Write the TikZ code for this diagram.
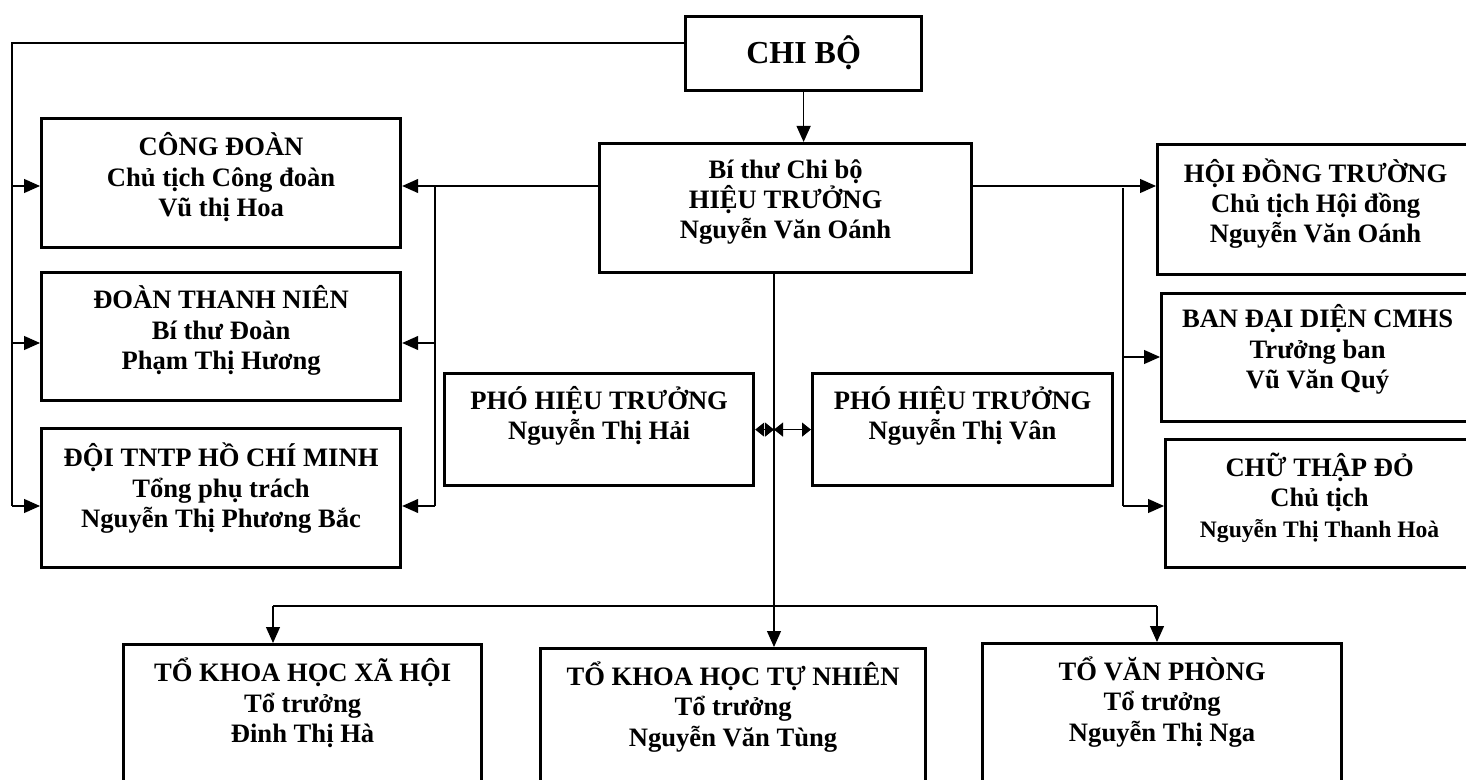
\documentclass[tikz,border=0pt]{standalone}
\usepackage{fontspec}
\setmainfont{Liberation Serif}
\usetikzlibrary{arrows.meta}
\tikzset{
  box/.style={draw,line width=1.6pt,anchor=north west,inner sep=0pt},
  txt/.style={align=center,inner sep=0pt,font=\bfseries\fontsize{13.3}{15.2}\selectfont},
  wire/.style={line width=0.6pt},
  arr/.style={wire,-{Triangle[length=8pt,width=7pt]}},
  darr/.style={wire,{Triangle[length=4.5pt,width=7pt]}-{Triangle[length=4.5pt,width=7pt]}}
}
\begin{document}
\begin{tikzpicture}[x=0.5pt,y=-0.5pt]
  \useasboundingbox (0,0) rectangle (1466,780);
  \node[box,minimum width=118pt,minimum height=37pt] (cb) at (684,15) {};
  \node[box,minimum width=186pt,minimum height=64.5pt] (ht) at (598,142) {};
  \node[box,minimum width=179.5pt,minimum height=64.5pt] (cd) at (40,117) {};
  \node[box,minimum width=179.5pt,minimum height=64pt] (dtn) at (40,271) {};
  \node[box,minimum width=179.5pt,minimum height=69.5pt] (doi) at (40,427) {};
  \node[box,minimum width=154.5pt,minimum height=56pt] (phl) at (443,372) {};
  \node[box,minimum width=150pt,minimum height=56pt] (phr) at (811,372) {};
  \node[box,minimum width=158pt,minimum height=65pt] (hd) at (1156,143) {};
  \node[box,minimum width=156pt,minimum height=64pt] (ban) at (1160,292) {};
  \node[box,minimum width=154pt,minimum height=64pt] (ctd) at (1164,438) {};
  \node[box,minimum width=179pt,minimum height=100pt] (khxh) at (122,643) {};
  \node[box,minimum width=192.5pt,minimum height=100pt] (khtn) at (539,647) {};
  \node[box,minimum width=179.5pt,minimum height=100pt] (vp) at (981,642) {};

  \node[txt,font=\bfseries\fontsize{16}{19}\selectfont,yshift=0.5pt] (cb-t) at (cb) {CHI BỘ};
  \node[txt,yshift=3pt] (ht-t) at (ht) {Bí thư Chi bộ\\HIỆU TRƯỞNG\\Nguyễn Văn Oánh};
  \node[txt,yshift=3pt] (cd-t) at (cd) {CÔNG ĐOÀN\\Chủ tịch Công đoàn\\Vũ thị Hoa};
  \node[txt,yshift=3pt] (dtn-t) at (dtn) {ĐOÀN THANH NIÊN\\Bí thư Đoàn\\Phạm Thị Hương};
  \node[txt,yshift=5pt] (doi-t) at (doi) {ĐỘI TNTP HỒ CHÍ MINH\\Tổng phụ trách\\Nguyễn Thị Phương Bắc};
  \node[txt,yshift=7pt] (phl-t) at (phl) {PHÓ HIỆU TRƯỞNG\\Nguyễn Thị Hải};
  \node[txt,yshift=7pt] (phr-t) at (phr) {PHÓ HIỆU TRƯỞNG\\Nguyễn Thị Vân};
  \node[txt,yshift=3pt] (hd-t) at (hd) {HỘI ĐỒNG TRƯỜNG\\Chủ tịch Hội đồng\\Nguyễn Văn Oánh};
  \node[txt,yshift=4pt] (ban-t) at (ban) {BAN ĐẠI DIỆN CMHS\\Trưởng ban\\Vũ Văn Quý};
  \node[txt,yshift=3pt] (ctd-t) at (ctd) {CHỮ THẬP ĐỎ\\Chủ tịch\\{\fontsize{11.8}{14}\selectfont Nguyễn Thị Thanh Hoà}};
  \node[txt] (khxh-t) at ([yshift=-30pt]khxh.north) {TỔ KHOA HỌC XÃ HỘI\\Tổ trưởng\\Đinh Thị Hà};
  \node[txt] (khtn-t) at ([yshift=-30pt]khtn.north) {TỔ KHOA HỌC TỰ NHIÊN\\Tổ trưởng\\Nguyễn Văn Tùng};
  \node[txt] (vp-t) at ([yshift=-30pt]vp.north) {TỔ VĂN PHÒNG\\Tổ trưởng\\Nguyễn Thị Nga};

  \coordinate (lt) at (12,43);
  \coordinate (lb) at (12,506);
  \coordinate (mt) at (435,186);
  \coordinate (mb) at (435,506);
  \coordinate (rt) at (1123,188);
  \coordinate (rb) at (1123,506);
  \coordinate (bl) at (273,606);
  \coordinate (bm) at (774,606);
  \coordinate (br) at (1157,606);

  \draw[arr] (cb.south) -- (cb.south |- ht.north);
  \draw[wire] (cb.west |- lt) -- (lt) -- (lb);
  \draw[arr] (lt |- mt) -- (cd.west |- mt);
  \draw[arr] (12,343) -- (dtn.west |- 0,343);
  \draw[arr] (lb) -- (doi.west |- lb);
  \draw[arr] (ht.west |- mt) -- (cd.east |- mt);
  \draw[wire] (mt) -- (mb);
  \draw[arr] (mt |- 0,343) -- (dtn.east |- 0,343);
  \draw[arr] (mb) -- (doi.east |- mb);
  \draw[arr] (ht.east |- mt) -- (hd.west |- mt);
  \draw[wire] (rt) -- (rb);
  \draw[arr] (rt |- 0,357) -- (ban.west |- 0,357);
  \draw[arr] (rb) -- (ctd.west |- rb);
  \draw[wire] (ht.south -| bm) -- (bm);
  \draw[wire] (bl) -- (br);
  \draw[arr] (bl) -- (bl |- khxh.north);
  \draw[arr] (bm) -- (bm |- khtn.north);
  \draw[arr] (br) -- (br |- vp.north);
  \draw[darr] (phl.east) -- (phl.east -| bm);
  \draw[darr] (phr.west -| bm) -- (phr.west);
\end{tikzpicture}
\end{document}
